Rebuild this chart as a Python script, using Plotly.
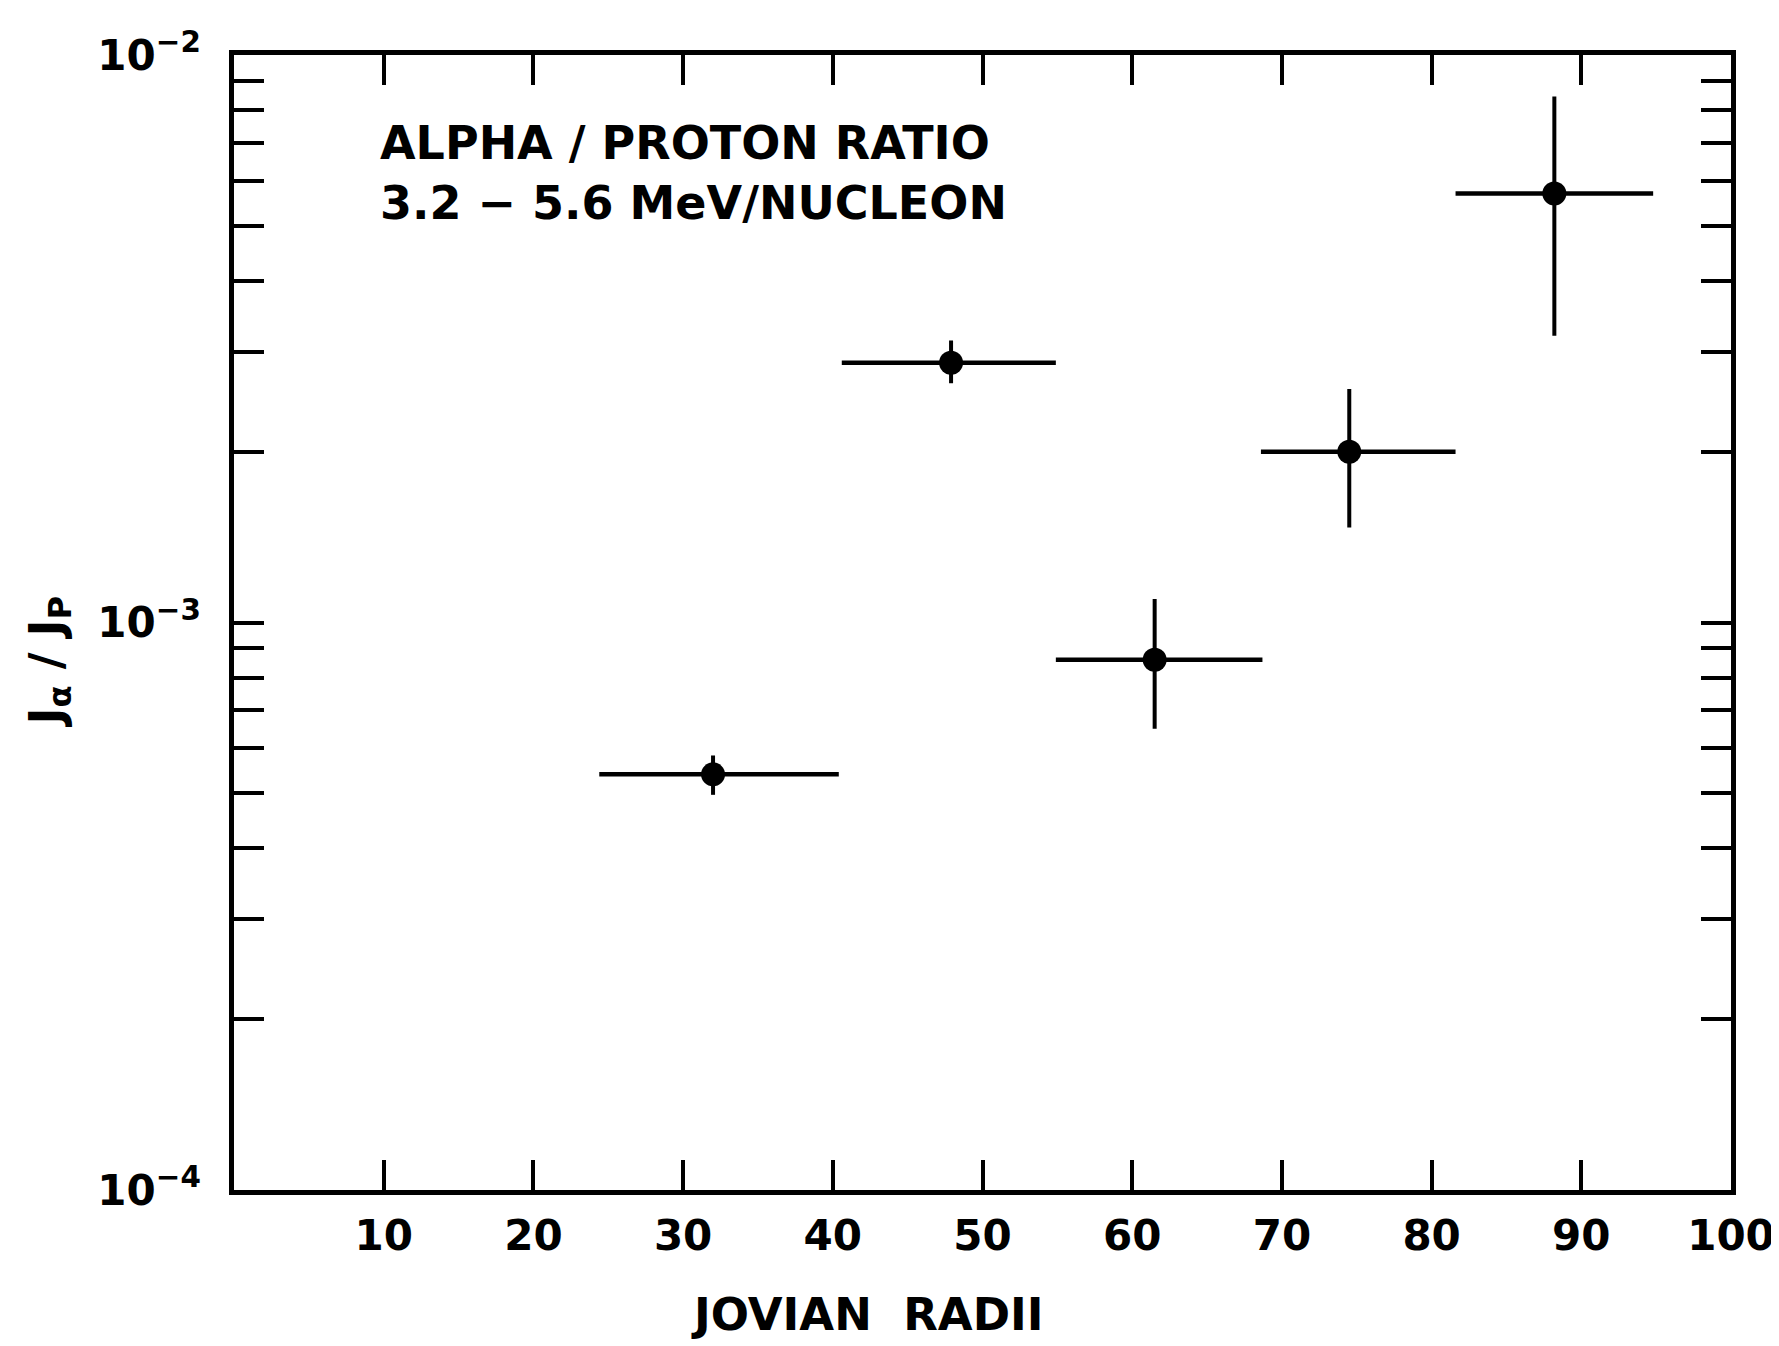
import plotly.graph_objects as go

# Data
radii = [32.0, 47.9, 61.5, 74.5, 88.2]
radii_lo = [24.4, 40.6, 54.9, 68.6, 81.6]
radii_hi = [40.4, 54.9, 68.7, 81.6, 94.8]
ratio = [5.4e-4, 2.87e-3, 8.6e-4, 2.0e-3, 5.7e-3]
ratio_lo = [4.97e-4, 2.64e-3, 6.5e-4, 1.47e-3, 3.2e-3]
ratio_hi = [5.83e-4, 3.14e-3, 1.10e-3, 2.58e-3, 8.45e-3]

x_ticks = [10, 20, 30, 40, 50, 60, 70, 80, 90, 100]
x_ticktext = ["10", "20", "30", "40", "50", "60", "70", "80", "90", "100"]
y_major = [1e-4, 1e-3, 1e-2]
y_major_text = ["10<sup>−4</sup>", "10<sup>−3</sup>", "10<sup>−2</sup>"]
y_minor_mult = [2, 3, 4, 5, 6, 7, 8, 9]

FONT = "DejaVu Sans"
INK = "black"

y_minor = [m * d for d in y_major[:-1] for m in y_minor_mult]

fig = go.Figure()
fig.add_trace(go.Scatter(
    x=radii, y=ratio, mode="markers",
    marker=dict(color=INK, size=24, symbol="circle"),
    error_x=dict(type="data", symmetric=False,
                 array=[h - v for h, v in zip(radii_hi, radii)],
                 arrayminus=[v - l for l, v in zip(radii_lo, radii)],
                 color=INK, thickness=4.5, width=0),
    error_y=dict(type="data", symmetric=False,
                 array=[h - v for h, v in zip(ratio_hi, ratio)],
                 arrayminus=[v - l for l, v in zip(ratio_lo, ratio)],
                 color=INK, thickness=4, width=0),
    showlegend=False,
))

L, R, T, B = 226, 51, 47, 164
W, H = 1779, 1346
plot_w = W - L - R
plot_h = H - T - B

fig.update_layout(
    width=W, height=H,
    margin=dict(l=L, r=R, t=T, b=B),
    paper_bgcolor="white", plot_bgcolor="white",
    font=dict(family=FONT, color=INK, size=40),
    xaxis=dict(
        range=[0, 100], tickvals=x_ticks, ticktext=x_ticktext,
        ticks="inside", ticklen=30, tickwidth=4, tickcolor=INK,
        showline=True, linewidth=4.5, linecolor=INK, mirror="ticks",
        showgrid=False, zeroline=False,
        tickfont=dict(size=42, family=FONT, weight="bold"), ticklabelstandoff=5,
    ),
    yaxis=dict(
        type="log", range=[-4, -2],
        tickvals=y_major, ticktext=y_major_text,
        ticks="inside", ticklen=30, tickwidth=4, tickcolor=INK,
        minor=dict(tickvals=y_minor, ticks="inside", ticklen=30, tickwidth=4,
                   tickcolor=INK, showgrid=False),
        showline=True, linewidth=4.5, linecolor=INK, mirror="ticks",
        showgrid=False, zeroline=False,
        tickfont=dict(size=42, family=FONT, weight="bold"), ticklabelstandoff=20,
    ),
    annotations=[
        dict(text="ALPHA / PROTON RATIO<br>3.2 − 5.6 MeV/NUCLEON",
             x=9.6, xref="x", y=0.948, yref="paper",
             xanchor="left", yanchor="top", align="left", showarrow=False,
             font=dict(size=46, family=FONT, color=INK, weight="bold")),
        dict(text="JOVIAN&nbsp;&nbsp;RADII",
             x=(862 - L) / plot_w, xref="paper",
             y=-(1306 - (H - B)) / plot_h, yref="paper",
             xanchor="center", yanchor="middle", showarrow=False,
             font=dict(size=45, family=FONT, color=INK, weight="bold")),
        dict(text="J<sub>α</sub> / J<sub>P</sub>", textangle=-90,
             x=-(L - 40) / plot_w, xref="paper",
             y=((H - B) - 654) / plot_h, yref="paper",
             xanchor="center", yanchor="middle", showarrow=False,
             font=dict(size=46, family=FONT, color=INK, weight="bold")),
    ],
)

fig.write_html("out.html")
